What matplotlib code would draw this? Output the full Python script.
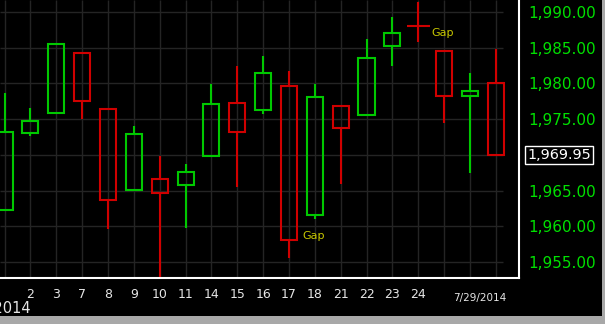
import matplotlib
matplotlib.use("Agg")
import matplotlib.pyplot as plt
from matplotlib.patches import Rectangle
from matplotlib.transforms import blended_transform_factory

# ---- data ----
days = ['1', '2', '3', '7', '8', '9', '10', '11', '14', '15', '16', '17', '18',
        '21', '22', '23', '24', '25', '28', '29']
opens = [1962.3, 1973.1, 1975.9, 1984.2, 1976.4, 1965.1, 1966.6, 1965.8, 1969.9, 1977.3,
         1976.3, 1979.7, 1961.6, 1976.9, 1975.6, 1985.3, 1988.1, 1984.6, 1978.3, 1980.0]
highs = [1978.6, 1976.6, 1985.7, 1984.2, 1976.4, 1974.1, 1969.9, 1968.7, 1979.9, 1982.5,
         1983.9, 1981.8, 1979.9, 1976.9, 1986.2, 1989.3, 1991.4, 1984.6, 1981.5, 1984.8]
lows = [1962.3, 1972.6, 1975.9, 1975.0, 1959.6, 1965.1, 1952.9, 1959.7, 1969.9, 1965.5,
        1975.7, 1955.6, 1961.0, 1965.9, 1975.6, 1982.5, 1985.8, 1974.5, 1967.4, 1969.95]
closes = [1973.2, 1974.7, 1985.5, 1977.6, 1963.7, 1972.9, 1964.7, 1967.6, 1977.1, 1973.2,
          1981.5, 1958.1, 1978.1, 1973.7, 1983.5, 1987.0, 1988.1, 1978.2, 1978.9, 1969.95]
labeled_idx = list(range(1, 17))
y_ticks = [1955, 1960, 1965, 1970, 1975, 1980, 1985, 1990]
last_price = 1969.95
gap_labels = [(16, 1987.1, 'Gap'), (11, 1958.7, 'Gap')]
first_date = '7/1/2014'
last_date = '7/29/2014'

UP = '#00c800'
DOWN = '#d00000'
GRID = '#242424'
AXIS_GREEN = '#00e000'

W, H = 608, 324
fig = plt.figure(figsize=(W / 100, H / 100), dpi=100)
fig.patch.set_facecolor('white')
# black chart panel + gray frame
fig.patches.append(Rectangle((0, 0), 605 / W, 1, transform=fig.transFigure,
                             facecolor='#a8a8a8', edgecolor='none', zorder=-3))
fig.patches.append(Rectangle((0, 8 / H), 602 / W, 1 - 8 / H, transform=fig.transFigure,
                             facecolor='black', edgecolor='none', zorder=-2))

ax = fig.add_axes([0, 46 / H, 519 / W, 1 - 46 / H])
ax.set_facecolor('black')

px = 25.85  # pixels per index
x0 = -4.6 / px
x1 = x0 + 519 / px
ax.set_xlim(x0, x1)
ax.set_ylim(1952.75, 1991.68)

# grid
n = len(days)
ax.hlines(y_ticks, x0, (503 - 4.6) / px, color=GRID, lw=1, zorder=0)
ax.vlines(range(n), 1952.75, 1991.68, color=GRID, lw=1, zorder=0)

hw = 0.31
for i, (o, h, l, c) in enumerate(zip(opens, highs, lows, closes)):
    col = UP if c > o else DOWN
    top, bot = max(o, c), min(o, c)
    if abs(c - o) < 0.05:
        ax.vlines(i, l, h, color=col, lw=1.5, zorder=3)
        ax.hlines(o, i - 0.44, i + 0.44, color=col, lw=1.5, zorder=3)
        continue
    if h > top:
        ax.vlines(i, top, h, color=col, lw=1.5, zorder=3)
    if l < bot:
        ax.vlines(i, l, bot, color=col, lw=1.5, zorder=3)
    ax.add_patch(Rectangle((i - hw, bot), 2 * hw, top - bot, facecolor='none',
                           edgecolor=col, lw=1.5, zorder=4))

for gi, gv, gt in gap_labels:
    ax.text(gi + 0.5, gv, gt, color='#c8c800', fontsize=8, ha='left', va='center')

# axes styling
for s in ['left', 'top']:
    ax.spines[s].set_visible(False)
for s in ['bottom', 'right']:
    ax.spines[s].set_color('white')
    ax.spines[s].set_linewidth(1.5)

ax.set_xticks(labeled_idx)
ax.set_xticklabels([days[i] for i in labeled_idx])
ax.tick_params(axis='x', length=0, pad=7, colors='#e6e6e6', labelsize=9)
ax.yaxis.tick_right()
ax.set_yticks(y_ticks)
# the 1,970.00 label is hidden behind the last-price box
ax.set_yticklabels(['' if abs(v - last_price) < 1 else f'{v:,.2f}' for v in y_ticks])
ax.tick_params(axis='y', length=0, pad=6.5, colors=AXIS_GREEN, labelsize=11)

# last price box
trans = blended_transform_factory(ax.transAxes, ax.transData)
ax.text(1.0158, last_price, f'{last_price:,.2f}', transform=trans, color='white',
        fontsize=10.4, ha='left', va='center', clip_on=False, zorder=10,
        bbox=dict(boxstyle='square,pad=0.12', facecolor='black', edgecolor='white', lw=1))

# date labels
fig.text(31 / W, 1 - 309 / H, first_date, color='#e6e6e6', fontsize=10.5, ha='right', va='center')
fig.text(480 / W, 1 - 298 / H, last_date, color='#e6e6e6', fontsize=7.5, ha='center', va='center')

fig.savefig('out.png', dpi=100, facecolor=fig.get_facecolor())
